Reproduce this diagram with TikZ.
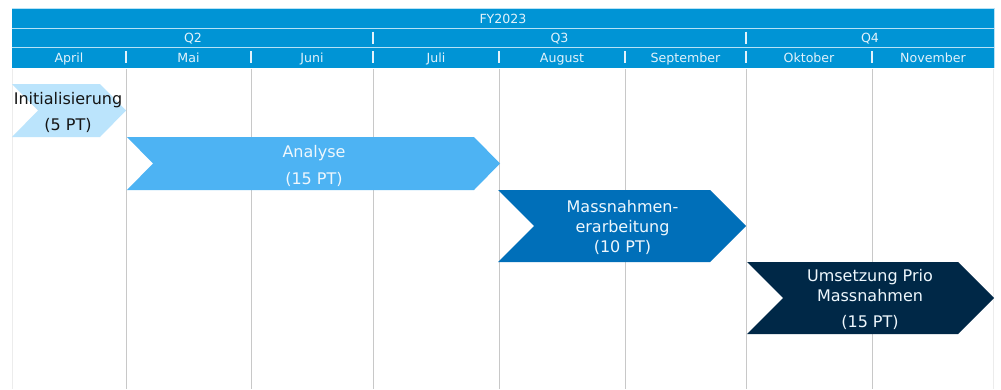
\documentclass[tikz,border=0pt]{standalone}
\usepackage{fontspec}
\setmainfont{DejaVu Sans}
\definecolor{hdrblue}{HTML}{0094D5}
\definecolor{hdredge}{HTML}{B8E2F6}
\definecolor{hdrtext}{HTML}{E2F2FB}
\definecolor{gridgray}{HTML}{C8C8C8}
\definecolor{gridfaint}{HTML}{ECECEC}
\definecolor{phaseA}{HTML}{BBE4FC}
\definecolor{phaseB}{HTML}{4DB3F3}
\definecolor{phaseC}{HTML}{006FB9}
\definecolor{phaseD}{HTML}{002847}
\definecolor{lighttext}{HTML}{EEF7FD}
\definecolor{darktext}{HTML}{151515}
\tikzset{
  hdrlabel/.style={anchor=base, inner sep=0pt, text=hdrtext, font=\fontsize{12.6}{15}\selectfont},
  tasklabel/.style={anchor=base, inner sep=0pt, font=\fontsize{16}{19}\selectfont},
  gridline/.style={draw=gridgray, line width=1pt},
  hdrsep/.style={draw=hdrtext, line width=1.1pt}
}
\begin{document}
\begin{tikzpicture}[x=1pt,y=-1pt]
\useasboundingbox (0,0) rectangle (1001,389);
\fill[white] (0,0) rectangle (1001,389);

% header bands: fiscal year, quarters, months
\fill[hdredge] (11.5,7.5) rectangle (994.5,67.5);
\fill[hdrblue] (12,8.5) rectangle (994,28);
\fill[hdrblue] (12,29) rectangle (994,47);
\fill[hdrblue] (12,48) rectangle (994,67.5);

\node[hdrlabel] (fy) at (503,23.3) {FY2023};
\node[hdrlabel] (q2) at (193,42.5) {Q2};
\node[hdrlabel] (q3) at (559.5,42.5) {Q3};
\node[hdrlabel] (q4) at (870,42.5) {Q4};

\foreach \x in {373,746} \draw[hdrsep] (\x,31.5) -- (\x,44);
\foreach \x in {126,251,373,499,625,746,872} \draw[hdrsep] (\x,51) -- (\x,63);

\node[hdrlabel] (m4) at (69,62) {April};
\node[hdrlabel] (m5) at (188.5,62) {Mai};
\node[hdrlabel] (m6) at (312,62) {Juni};
\node[hdrlabel] (m7) at (436,62) {Juli};
\node[hdrlabel] (m8) at (562,62) {August};
\node[hdrlabel] (m9) at (685.5,62) {September};
\node[hdrlabel] (m10) at (809,62) {Oktober};
\node[hdrlabel] (m11) at (933,62) {November};

% month grid
\draw[draw=gridfaint, line width=1pt] (12,69) -- (12,389);
\draw[draw=gridfaint, line width=1pt] (993.5,69) -- (993.5,389);
\foreach \x in {126,251,373,499,625,746,872} \draw[gridline] (\x,69) -- (\x,389);

% project phases
\fill[phaseA] (12,84) -- (100,84) -- (126,110.5) -- (100,137) -- (12,137) -- (38,110.5) -- cycle;
\fill[phaseB] (127,137) -- (474,137) -- (500,163.5) -- (474,190) -- (127,190) -- (153,163.5) -- cycle;
\fill[phaseC] (498,190) -- (710,190) -- (746,226) -- (710,262) -- (498,262) -- (534,226) -- cycle;
\fill[phaseD] (747,262) -- (958,262) -- (994,298) -- (958,334) -- (747,334) -- (783,298) -- cycle;

\node[tasklabel, text=darktext] (init1) at (68,104) {Initialisierung};
\node[tasklabel, text=darktext] (init2) at (68,130) {(5 PT)};

\node[tasklabel, text=lighttext] (ana1) at (314,157.3) {Analyse};
\node[tasklabel, text=lighttext] (ana2) at (314,184) {(15 PT)};

\node[tasklabel, text=lighttext] (mas1) at (622.5,212.7) {Massnahmen-};
\node[tasklabel, text=lighttext] (mas2) at (622.5,232.3) {erarbeitung};
\node[tasklabel, text=lighttext] (mas3) at (622.5,252.3) {(10 PT)};

\node[tasklabel, text=lighttext] (ums1) at (870,281.7) {Umsetzung Prio};
\node[tasklabel, text=lighttext] (ums2) at (870,301) {Massnahmen};
\node[tasklabel, text=lighttext] (ums3) at (870,327.7) {(15 PT)};
\end{tikzpicture}
\end{document}
